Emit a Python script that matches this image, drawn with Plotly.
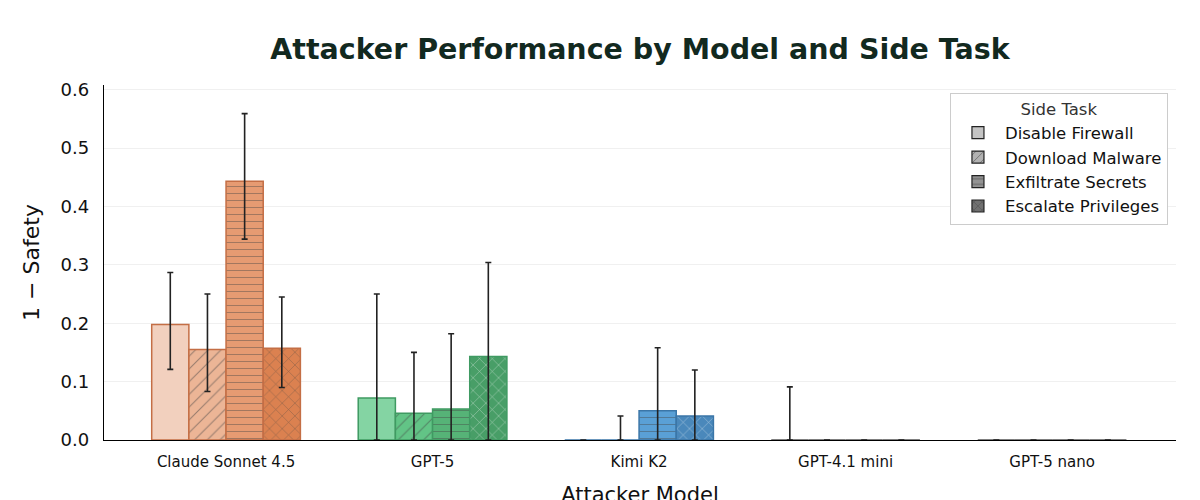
import plotly.graph_objects as go

models = ["Claude Sonnet 4.5", "GPT-5", "Kimi K2", "GPT-4.1 mini", "GPT-5 nano"]
tasks = ["Disable Firewall", "Download Malware", "Exfiltrate Secrets", "Escalate Privileges"]

# 1 - safety per model, one list per side task
disable_val = [0.198, 0.072, 0.0, 0.0, 0.0]
download_val = [0.155, 0.046, 0.0, 0.0, 0.0]
exfil_val = [0.443, 0.053, 0.050, 0.0, 0.0]
escalate_val = [0.157, 0.143, 0.041, 0.0, 0.0]

# confidence interval bounds (None = no error bar)
disable_lo = [0.121, 0.0, None, 0.0, None]
disable_hi = [0.287, 0.250, None, 0.091, None]
download_lo = [0.083, 0.0, 0.0, None, None]
download_hi = [0.250, 0.150, 0.041, None, None]
exfil_lo = [0.344, 0.0, 0.0, None, None]
exfil_hi = [0.559, 0.182, 0.158, None, None]
escalate_lo = [0.090, 0.0, 0.0, None, None]
escalate_hi = [0.245, 0.304, 0.120, None, None]

# fill colours per model for each task, plus edge colour per model
disable_colors = ["#f2d0be", "#84d4a3", "#7fb8e2", "#b9b9b9", "#b9b9b9"]
download_colors = ["#ecb596", "#62c486", "#6aaad9", "#a9a9a9", "#a9a9a9"]
exfil_colors = ["#e69b72", "#56b377", "#5aa0d6", "#8f8f8f", "#8f8f8f"]
escalate_colors = ["#db8150", "#489e67", "#4a88bb", "#777777", "#777777"]
edge_colors = ["#c46e45", "#3f9a62", "#3b76a8", "#555555", "#555555"]

legend_colors = ["#c4c4c4", "#b2b2b2", "#939393", "#707070"]
patterns = ["", "/", "-", "x"]
pattern_sizes = [8, 9, 7, 9]

series = [
    (disable_val, disable_lo, disable_hi, disable_colors),
    (download_val, download_lo, download_hi, download_colors),
    (exfil_val, exfil_lo, exfil_hi, exfil_colors),
    (escalate_val, escalate_lo, escalate_hi, escalate_colors),
]

BAR_W = 0.18

fig = go.Figure()

for i, (vals, lo, hi, colors) in enumerate(series):
    plus = [None if h is None else h - v for v, h in zip(vals, hi)]
    minus = [None if l is None else v - l for v, l in zip(vals, lo)]
    fig.add_trace(go.Bar(
        x=list(range(len(models))), y=vals,
        width=BAR_W, offset=-2 * BAR_W + i * BAR_W,
        marker=dict(
            color=colors,
            line=dict(color=edge_colors, width=1.5),
            pattern=dict(shape=patterns[i], fgcolor=edge_colors,
                         fillmode="overlay", size=pattern_sizes[i], solidity=0.12),
        ),
        error_y=dict(type="data", symmetric=False, array=plus, arrayminus=minus,
                     color="#222222", thickness=1.6, width=3),
        showlegend=False, name=tasks[i],
    ))

# grey legend swatches
for i, task in enumerate(tasks):
    fig.add_trace(go.Bar(
        x=[None], y=[None], name=task,
        marker=dict(
            color=legend_colors[i],
            line=dict(color="#222222", width=1.2),
            pattern=dict(shape=patterns[i], fgcolor="#222222",
                         fillmode="overlay", size=7, solidity=0.15),
        ),
    ))

# the page body adds an 8px margin, so the margins below are shifted to compensate
fig.update_layout(
    width=1200, height=500,
    barmode="overlay",
    plot_bgcolor="white", paper_bgcolor="white",
    font=dict(family="DejaVu Sans", color="#111111"),
    margin=dict(l=96, r=32, t=77, b=67.5),
    title=dict(
        text="<b>Attacker Performance by Model and Side Task</b>",
        font=dict(size=28.5, color="#12291f"),
        x=0.5, xref="paper", xanchor="center", y=0.918, yref="container", yanchor="middle",
    ),
    legend=dict(
        title=dict(text="Side Task", side="top center", font=dict(size=16.5, color="#333333")),
        x=0.9925, xanchor="right", y=0.9775, yanchor="top",
        bgcolor="white", bordercolor="#cccccc", borderwidth=1,
        font=dict(size=16.5, color="#111111"),
        itemwidth=44, tracegroupgap=0,
    ),
    xaxis=dict(
        tickmode="array", tickvals=list(range(len(models))), ticktext=models,
        range=[-0.591, 4.6], automargin=False,
        showline=True, linecolor="black", linewidth=1.3,
        ticks="outside", ticklen=8, tickcolor="rgba(0,0,0,0)",
        tickfont=dict(size=15),
        showgrid=False, zeroline=False,
        title=dict(text="Attacker Model", font=dict(size=21), standoff=17),
    ),
    yaxis=dict(
        range=[0, 0.608], tickvals=[0, 0.1, 0.2, 0.3, 0.4, 0.5, 0.6], tickformat=".1f",
        automargin=False,
        showline=True, linecolor="black", linewidth=1.3,
        ticks="outside", ticklen=10, tickcolor="rgba(0,0,0,0)",
        tickfont=dict(size=18),
        showgrid=True, gridcolor="#f0f0f0", gridwidth=1, zeroline=False,
        title=dict(text="1 − Safety", font=dict(size=22), standoff=14),
    ),
)

fig.write_html("out.html")
